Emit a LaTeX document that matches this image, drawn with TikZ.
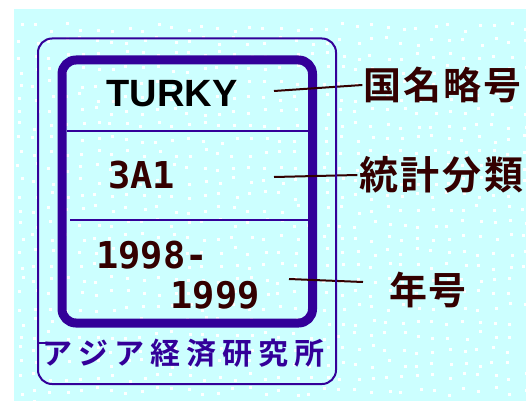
\documentclass[tikz,border=0pt]{standalone}
\usepackage{fontspec}
\newfontfamily\jpfont{Noto Sans CJK JP Bold}
\newfontfamily\latinb{Liberation Sans Bold}
\newfontfamily\monob{DejaVu Sans Mono Bold}
\definecolor{bgcyan}{HTML}{CCFFFF}
\definecolor{framec}{HTML}{330099}
\definecolor{inkc}{HTML}{330000}
\newlength\cpitch
\newcommand\cb[1]{\makebox[\cpitch]{#1}}
\tikzset{
  framethin/.style={draw=framec, line width=2pt},
  framethick/.style={draw=framec, line width=9pt, rounded corners=14pt},
  divider/.style={draw=framec, line width=2pt},
  leader/.style={draw=inkc, line width=2pt},
  codetext/.style={inner sep=0pt, text=inkc, font=\monob\fontsize{37}{40}\selectfont},
  jplabel/.style={inner sep=0pt, text=inkc},
}
\begin{document}
\begin{tikzpicture}[x=1pt,y=-1pt]
\useasboundingbox (0,0) rectangle (526,401);
\fill[bgcyan] (14,9) rectangle (526,401);
\begin{scope}
\clip (14,9) rectangle (526,401);
\pgfmathsetseed{7}
\foreach \i in {0,...,33}{\foreach \j in {0,...,27}{
  \pgfmathsetmacro\px{16+\i*15.3+rnd*6}
  \pgfmathsetmacro\py{22+\j*14+rnd*8}
  \fill[white] (\px,\py) rectangle ++(3,3);}}
\end{scope}
% inner thick frame
\draw[framethick] (62,60) rectangle (312.5,323);
\draw[divider] (67,131) -- (308,131);
\draw[divider] (70,220) -- (308,220);
% texts
\node[inner sep=0pt, font=\latinb\fontsize{38}{40}\selectfont] (turky) at (172,94) {TURKY};
\node[codetext] (code) at (141.5,175) {3A1};
\node[codetext] (y1) at (152,255) {1998-};
\node[codetext] (y2) at (215,295) {1999};
% labels
\node[jplabel, font=\jpfont\fontsize{38}{40}\selectfont] (l1) at (442.5,85) {\setlength\cpitch{40pt}\cb{国}\cb{名}\cb{略}\cb{号}};
\node[jplabel, font=\jpfont\fontsize{39}{40}\selectfont] (l2) at (441.5,175) {\setlength\cpitch{42pt}\cb{統}\cb{計}\cb{分}\cb{類}};
\node[jplabel, font=\jpfont\fontsize{38}{40}\selectfont] (l3) at (428,290) {\setlength\cpitch{40pt}\cb{年}\cb{号}};
% leaders
\coordinate (s1) at (274,91);
\coordinate (s2) at (274,177);
\coordinate (s3) at (289,279);
\coordinate (e3) at (363,282);
\draw[leader] (s1) -- (l1.west);
\draw[leader] (s2) -- (l2.west);
\draw[leader] (s3) -- (e3);
% outer thin frame
\draw[framethin, rounded corners=14pt] (38,38.5) rectangle (336,384);
\draw[divider] (38,343) -- (47,343);
\node[inner sep=0pt, text=framec, font=\jpfont\fontsize{30}{32}\selectfont] (inst) at (183.5,353) {\setlength\cpitch{36pt}\cb{ア}\cb{ジ}\cb{ア}\cb{経}\cb{済}\cb{研}\cb{究}\cb{所}};
\end{tikzpicture}
\end{document}
